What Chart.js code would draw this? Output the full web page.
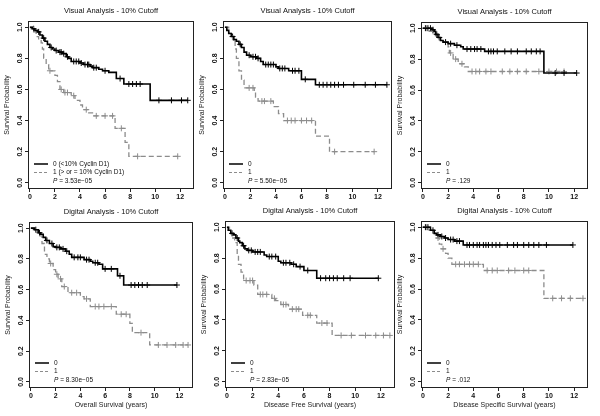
<!DOCTYPE html>
<html>
<head>
<meta charset="utf-8">
<script src="https://cdn.jsdelivr.net/npm/chart.js@4/dist/chart.umd.min.js"></script>
<style>
  body { margin: 0; background: #fff; width: 600px; height: 416px; overflow: hidden; position: relative; }
  canvas { position: absolute; }
</style>
</head>
<body>
<script>
// tick values shared by every panel
const xTicks = [0, 2, 4, 6, 8, 10, 12];
const yTicks = [0, 0.2, 0.4, 0.6, 0.8, 1.0];

// Panel 1 - Visual, overall survival
const p1Times0 = [0, 0.2, 0.4, 0.6, 0.8, 1.0, 1.2, 1.4, 1.6, 1.8, 2.0, 2.3, 2.6, 2.9, 3.1, 3.3, 4.0, 4.3, 4.8, 5.0, 5.5, 5.8, 6.3, 6.9, 7.5, 9.6];
const p1Surv0  = [1.0, 0.99, 0.98, 0.97, 0.95, 0.93, 0.91, 0.89, 0.87, 0.86, 0.85, 0.84, 0.83, 0.81, 0.80, 0.78, 0.77, 0.76, 0.75, 0.74, 0.73, 0.72, 0.71, 0.67, 0.635, 0.53];
const p1Cens0  = [0.3, 0.7, 1.1, 1.7, 2.1, 2.4, 2.5, 2.7, 3.0, 3.5, 3.7, 3.9, 4.1, 4.4, 4.6, 4.7, 5.1, 5.3, 6.0, 7.2, 7.9, 8.2, 8.5, 8.8, 10.3, 11.3, 12.1, 12.6];
const p1Times1 = [0, 0.3, 0.5, 0.7, 0.9, 1.0, 1.1, 1.3, 1.5, 2.0, 2.2, 2.4, 2.7, 3.3, 3.6, 4.0, 4.2, 4.7, 5.0, 6.8, 7.6, 7.9];
const p1Surv1  = [1.0, 0.97, 0.94, 0.92, 0.9, 0.86, 0.8, 0.76, 0.72, 0.69, 0.65, 0.6, 0.58, 0.56, 0.53, 0.5, 0.47, 0.45, 0.43, 0.35, 0.26, 0.17];
const p1Cens1  = [1.6, 2.5, 2.8, 3.0, 3.5, 4.5, 5.3, 6.0, 6.6, 7.3, 8.6, 11.8];

// Panel 2 - Visual, disease free survival
const p2Times0 = [0, 0.15, 0.3, 0.5, 0.7, 0.9, 1.1, 1.3, 1.5, 1.7, 2.0, 2.5, 2.8, 3.0, 4.0, 4.2, 5.0, 6.0, 7.1];
const p2Surv0  = [1.0, 0.98, 0.96, 0.94, 0.92, 0.91, 0.89, 0.87, 0.84, 0.82, 0.81, 0.80, 0.78, 0.76, 0.745, 0.735, 0.72, 0.665, 0.63];
const p2Cens0  = [0.6, 1.2, 1.9, 2.2, 2.4, 2.6, 3.2, 3.4, 3.6, 3.8, 4.3, 4.5, 4.7, 5.3, 5.5, 5.8, 6.3, 7.4, 7.7, 8.0, 8.3, 8.6, 8.9, 9.3, 10.1, 11.0, 11.8, 12.7];
const p2Times1 = [0, 0.3, 0.6, 0.8, 0.9, 1.1, 1.3, 1.5, 2.3, 2.4, 2.6, 3.8, 4.2, 4.6, 7.1, 8.2];
const p2Surv1  = [1.0, 0.96, 0.92, 0.86, 0.80, 0.72, 0.66, 0.61, 0.59, 0.55, 0.525, 0.49, 0.445, 0.40, 0.30, 0.20];
const p2Cens1  = [1.9, 2.2, 2.9, 3.1, 3.6, 4.9, 5.2, 5.5, 6.0, 6.4, 6.8, 8.6, 11.7];

// Panel 3 - Visual, disease specific survival
const p3Times0 = [0, 0.7, 0.9, 1.0, 1.2, 1.4, 1.6, 2.0, 2.5, 3.0, 3.2, 4.9, 9.6];
const p3Surv0  = [1.0, 0.99, 0.98, 0.96, 0.94, 0.92, 0.91, 0.90, 0.89, 0.88, 0.865, 0.85, 0.71];
const p3Cens0  = [0.2, 0.4, 0.6, 0.8, 1.1, 1.3, 1.8, 2.2, 2.7, 3.5, 3.8, 4.1, 4.3, 4.6, 5.2, 5.4, 5.6, 5.9, 6.5, 7.0, 7.5, 8.2, 8.6, 9.0, 9.3, 10.5, 11.2, 12.2];
const p3Times1 = [0, 0.5, 1.0, 1.3, 1.6, 2.0, 2.1, 2.4, 2.8, 3.3, 3.6];
const p3Surv1  = [1.0, 0.98, 0.95, 0.93, 0.91, 0.88, 0.84, 0.80, 0.77, 0.75, 0.72];
const p3Cens1  = [0.3, 0.8, 2.2, 2.6, 3.1, 3.9, 4.2, 4.5, 5.0, 5.4, 6.3, 6.9, 7.5, 8.2, 9.2, 10.0, 10.6, 11.2];

// Panel 4 - Digital, overall survival
const p4Times0 = [0, 0.3, 0.6, 0.8, 1.0, 1.2, 1.5, 1.8, 2.0, 2.4, 2.8, 3.1, 3.3, 4.3, 4.8, 5.0, 5.5, 5.8, 7.0, 7.5];
const p4Surv0  = [1.0, 0.99, 0.97, 0.96, 0.94, 0.92, 0.90, 0.88, 0.875, 0.865, 0.85, 0.83, 0.81, 0.795, 0.785, 0.775, 0.765, 0.735, 0.69, 0.63];
const p4Cens0  = [0.4, 0.7, 1.3, 1.7, 2.1, 2.3, 2.6, 2.9, 3.5, 3.8, 4.0, 4.5, 4.7, 5.2, 5.4, 6.0, 6.5, 7.2, 8.1, 8.4, 8.7, 9.0, 9.4, 11.8];
const p4Times1 = [0, 0.3, 0.6, 0.9, 1.1, 1.3, 1.5, 1.8, 2.0, 2.2, 2.5, 3.0, 4.0, 4.3, 4.8, 6.9, 8.0, 8.2, 9.6];
const p4Surv1  = [1.0, 0.98, 0.95, 0.9, 0.83, 0.80, 0.77, 0.73, 0.70, 0.67, 0.62, 0.58, 0.555, 0.54, 0.49, 0.44, 0.38, 0.32, 0.24];
const p4Cens1  = [1.6, 2.1, 2.4, 2.7, 3.3, 3.7, 4.5, 5.2, 5.5, 5.9, 6.5, 7.3, 7.7, 8.9, 10.3, 11.0, 11.7, 12.3, 12.7];

// Panel 5 - Digital, disease free survival
const p5Times0 = [0, 0.1, 0.3, 0.5, 0.7, 0.9, 1.0, 1.2, 1.4, 1.6, 2.0, 2.9, 3.1, 4.0, 4.2, 5.0, 5.4, 6.0, 7.0];
const p5Surv0  = [1.0, 0.98, 0.96, 0.95, 0.93, 0.91, 0.90, 0.88, 0.86, 0.85, 0.84, 0.82, 0.81, 0.78, 0.77, 0.76, 0.745, 0.72, 0.67];
const p5Cens0  = [0.4, 0.8, 1.3, 1.7, 1.9, 2.2, 2.4, 2.6, 3.3, 3.5, 3.8, 4.4, 4.6, 4.9, 5.2, 5.7, 6.3, 7.3, 7.7, 8.0, 8.3, 8.6, 9.1, 9.6, 11.8];
const p5Times1 = [0, 0.2, 0.4, 0.6, 0.8, 0.9, 1.1, 1.3, 2.1, 2.4, 3.5, 3.8, 4.2, 4.8, 5.9, 7.0, 8.2];
const p5Surv1  = [1.0, 0.97, 0.93, 0.9, 0.82, 0.76, 0.71, 0.655, 0.625, 0.565, 0.54, 0.525, 0.50, 0.47, 0.43, 0.38, 0.30];
const p5Cens1  = [1.5, 1.8, 2.0, 2.6, 2.8, 3.1, 3.7, 4.4, 4.6, 5.1, 5.4, 5.6, 6.3, 6.5, 7.4, 7.8, 8.9, 9.7, 10.8, 11.6, 12.2, 12.7];

// Panel 6 - Digital, disease specific survival
const p6Times0 = [0, 0.6, 0.9, 1.1, 1.4, 1.7, 2.0, 2.5, 3.2];
const p6Surv0  = [1.0, 0.98, 0.96, 0.95, 0.94, 0.93, 0.92, 0.91, 0.885];
const p6Cens0  = [0.2, 0.4, 0.8, 1.2, 1.5, 1.8, 2.2, 2.4, 2.7, 2.9, 3.5, 3.7, 4.0, 4.3, 4.5, 4.8, 5.0, 5.2, 5.5, 5.8, 6.1, 6.7, 7.2, 7.5, 8.0, 8.4, 8.8, 9.2, 9.8, 11.9];
const p6Times1 = [0, 0.5, 0.8, 1.0, 1.3, 1.5, 1.8, 2.0, 2.3, 4.8, 9.6];
const p6Surv1  = [1.0, 0.98, 0.96, 0.93, 0.89, 0.86, 0.83, 0.80, 0.76, 0.72, 0.54];
const p6Cens1  = [0.3, 1.2, 1.6, 2.6, 2.9, 3.3, 3.7, 4.0, 4.4, 5.1, 5.5, 5.9, 6.8, 7.3, 8.0, 8.4, 10.3, 11.0, 11.7, 12.7];

const titles  = ['Visual Analysis - 10% Cutoff', 'Visual Analysis - 10% Cutoff', 'Visual Analysis - 10% Cutoff',
                 'Digital Analysis - 10% Cutoff', 'Digital Analysis - 10% Cutoff', 'Digital Analysis - 10% Cutoff'];
const xTitles = ['', '', '', 'Overall Survival (years)', 'Disease Free Survival (years)', 'Disease Specific Survival (years)'];
const pValues = ['3.53e\u221205', '5.50e\u221205', '.129', '8.30e\u221205', '2.83e\u221205', '.012'];
const groupLabels = [['0 (<10% Cyclin D1)', '1 (> or = 10% Cyclin D1)'], ['0', '1'], ['0', '1'], ['0', '1'], ['0', '1'], ['0', '1']];

const FONT = '"Liberation Sans", Arial, sans-serif';
const COL0 = '#000';
const COL1 = '#8c8c8c';

// plot box of each panel on the page: left, top, right, bottom
const boxes = [
  [28, 21, 194, 189], [223, 21, 392, 189], [421, 22, 588, 189],
  [29, 222, 193, 388], [225, 221, 395, 388], [421, 221, 588, 388]
];

const series = [
  [p1Times0, p1Surv0, p1Cens0, p1Times1, p1Surv1, p1Cens1],
  [p2Times0, p2Surv0, p2Cens0, p2Times1, p2Surv1, p2Cens1],
  [p3Times0, p3Surv0, p3Cens0, p3Times1, p3Surv1, p3Cens1],
  [p4Times0, p4Surv0, p4Cens0, p4Times1, p4Surv1, p4Cens1],
  [p5Times0, p5Surv0, p5Cens0, p5Times1, p5Surv1, p5Cens1],
  [p6Times0, p6Surv0, p6Cens0, p6Times1, p6Surv1, p6Cens1]
];

function survAt(t, times, surv) {
  var y = surv[0];
  for (var i = 0; i < times.length; i++) {
    if (times[i] <= t) y = surv[i];
  }
  return y;
}

function stepPoints(times, surv, cens) {
  var pts = times.map((t, i) => ({x: t, y: surv[i]}));
  var end = Math.max(times[times.length - 1], cens[cens.length - 1]);
  pts.push({x: end, y: surv[surv.length - 1]});
  return pts;
}

function censorPoints(times, surv, cens) {
  return cens.map(t => ({x: t, y: survAt(t, times, surv)}));
}

/* box, panel title and legend, R style */
const panelText = {
  id: 'panelText',
  afterDraw(chart, args, opts) {
    const ctx = chart.ctx;
    const a = chart.chartArea;
    ctx.save();
    ctx.strokeStyle = '#222';
    ctx.lineWidth = 1;
    ctx.setLineDash([]);
    ctx.strokeRect(a.left + 0.5, a.top + 0.5, a.right - a.left - 1, a.bottom - a.top - 1);

    ctx.fillStyle = '#111';
    ctx.font = '7.5px ' + FONT;
    ctx.textAlign = 'center';
    ctx.textBaseline = 'middle';
    ctx.fillText(opts.title, (a.left + a.right) / 2, a.top - 10);

    var x0 = a.left + 6, x1 = a.left + 20, tx = a.left + 25;
    var rows = [a.bottom - 25, a.bottom - 16.5, a.bottom - 8];
    ctx.textAlign = 'left';
    ctx.font = '6.5px ' + FONT;

    ctx.strokeStyle = COL0; ctx.lineWidth = 1.5;
    ctx.beginPath(); ctx.moveTo(x0, rows[0]); ctx.lineTo(x1, rows[0]); ctx.stroke();
    ctx.strokeStyle = COL1; ctx.lineWidth = 1.2; ctx.setLineDash([3, 2]);
    ctx.beginPath(); ctx.moveTo(x0, rows[1]); ctx.lineTo(x1, rows[1]); ctx.stroke();
    ctx.setLineDash([]);

    ctx.fillText(opts.labels[0], tx, rows[0]);
    ctx.fillText(opts.labels[1], tx, rows[1]);
    ctx.font = 'italic 6.5px ' + FONT;
    ctx.fillText('P', tx, rows[2]);
    var pw = ctx.measureText('P').width;
    ctx.font = '6.5px ' + FONT;
    ctx.fillText(' = ' + opts.p, tx + pw, rows[2]);
    ctx.restore();
  }
};

function makePanel(k) {
  var b = boxes[k];
  var left = b[0] - 32, top = b[1] - 22;
  var w = b[2] + 8 - left, h = b[3] + 28 - top;
  var canvas = document.createElement('canvas');
  canvas.width = w; canvas.height = h;
  canvas.style.left = left + 'px';
  canvas.style.top = top + 'px';
  canvas.style.width = w + 'px';
  canvas.style.height = h + 'px';
  document.body.appendChild(canvas);

  var s = series[k];
  var datasets = [
    {data: stepPoints(s[0], s[1], s[2]), borderColor: COL0, borderWidth: 1.6, stepped: true, pointRadius: 0, fill: false},
    {data: stepPoints(s[3], s[4], s[5]), borderColor: COL1, borderWidth: 1.3, borderDash: [5, 3], stepped: true, pointRadius: 0, fill: false},
    {data: censorPoints(s[0], s[1], s[2]), showLine: false, pointStyle: 'cross', pointRadius: 3, borderColor: COL0, borderWidth: 1},
    {data: censorPoints(s[3], s[4], s[5]), showLine: false, pointStyle: 'cross', pointRadius: 3, borderColor: COL1, borderWidth: 1}
  ];

  new Chart(canvas, {
    type: 'line',
    data: {datasets: datasets},
    plugins: [panelText],
    options: {
      responsive: false,
      animation: false,
      devicePixelRatio: 1,
      layout: {padding: {top: 22, right: 8, left: 0, bottom: 0}},
      plugins: {
        legend: {display: false},
        tooltip: {enabled: false},
        panelText: {title: titles[k], labels: groupLabels[k], p: pValues[k]}
      },
      scales: {
        x: {
          type: 'linear',
          min: -0.15, max: 13.1,
          afterBuildTicks: sc => { sc.ticks = xTicks.map(v => ({value: v})); },
          afterFit: sc => { sc.height = 28; },
          grid: {drawOnChartArea: false, drawTicks: true, tickLength: 3, color: '#222'},
          border: {display: false},
          ticks: {color: '#111', padding: 1, maxRotation: 0, font: {family: FONT, size: 7, weight: 'bold'}},
          title: {display: xTitles[k] !== '', text: xTitles[k], color: '#222',
                  font: {family: FONT, size: 7}, padding: {top: 0, bottom: 6.8}}
        },
        y: {
          type: 'linear',
          min: -0.04, max: 1.04,
          afterBuildTicks: sc => { sc.ticks = yTicks.map(v => ({value: v})); },
          afterFit: sc => { sc.width = 32; },
          grid: {drawOnChartArea: false, drawTicks: true, tickLength: 3, color: '#222'},
          border: {display: false},
          ticks: {color: '#111', padding: 0, minRotation: 90, maxRotation: 90, crossAlign: 'center',
                  callback: v => v.toFixed(1), font: {family: FONT, size: 7, weight: 'bold'}},
          title: {display: true, text: 'Survival Probability', color: '#222',
                  font: {family: FONT, size: 7}, padding: {top: 6.8, bottom: 0}}
        }
      }
    }
  });
}

for (var k = 0; k < 6; k++) {
  makePanel(k);
}
</script>
</body>
</html>
